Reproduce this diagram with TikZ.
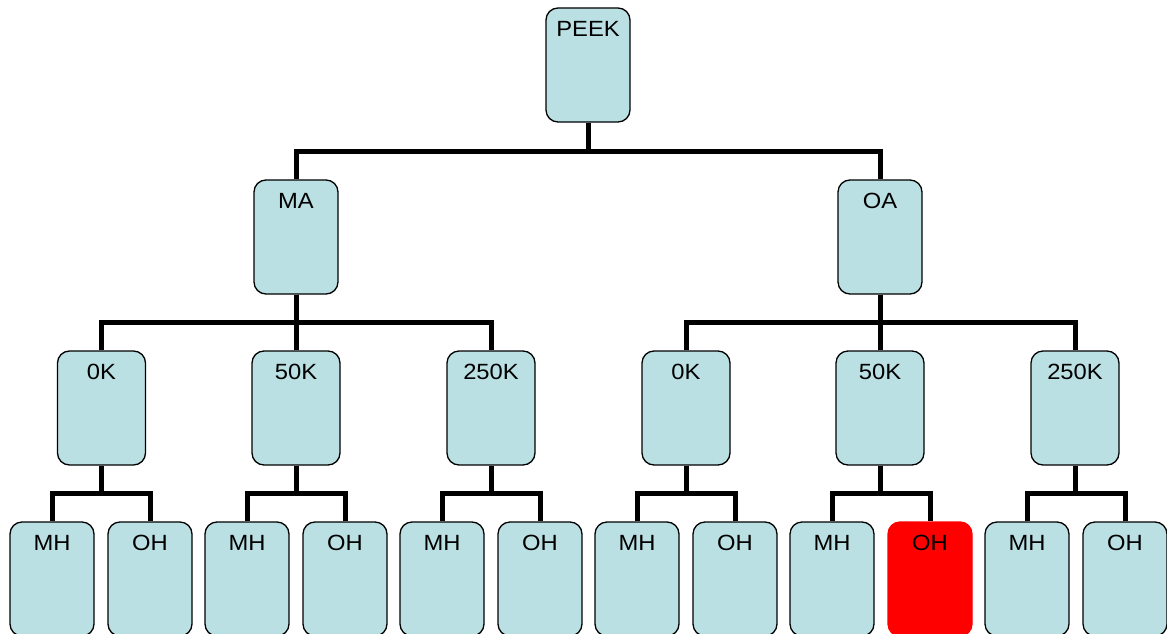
\documentclass[tikz,border=0pt]{standalone}
\usepackage{fontspec}
\setmainfont[FakeStretch=1.08]{Liberation Sans}
\usetikzlibrary{calc}
\definecolor{boxfill}{RGB}{186,224,227}
\tikzset{
  box/.style={draw=black, line width=1.3pt, fill=boxfill, rounded corners=12pt,
    minimum width=84pt, minimum height=114pt, inner sep=0pt},
  wbox/.style={box, minimum width=88pt},
  hot/.style={box, draw=red, fill=red},
  lbl/.style={anchor=north, inner sep=0pt, font=\fontsize{22}{24}\selectfont},
  conn/.style={line width=5pt, line join=miter},
}
\newcommand{\bx}[4][box]{%
  \node[#1] (#2) at #3 {};
  \node[lbl] (#2-t) at ($(#2.north)+(0,14)$) {#4};}
\newcommand{\lnk}[2]{%
  \draw[conn] (#1.south) -- ($(#1.south)!.5!(#1.south |- #2.north)$) -| (#2.north);}
\begin{document}
\begin{tikzpicture}[x=1pt,y=-1pt]
\useasboundingbox (0,0) rectangle (1167,634);
\bx{peek}{(588,65)}{PEEK}
\bx{ma}{(296,237)}{MA}
\bx{oa}{(880,237)}{OA}
\bx[wbox]{a0}{(101.5,408)}{0K}
\bx[wbox]{a50}{(296,408)}{50K}
\bx[wbox]{a250}{(491,408)}{250K}
\bx[wbox]{b0}{(686,408)}{0K}
\bx[wbox]{b50}{(880,408)}{50K}
\bx[wbox]{b250}{(1075,408)}{250K}
\bx{l1}{(52,579)}{MH}
\bx{l2}{(150,579)}{OH}
\bx{l3}{(247,579)}{MH}
\bx{l4}{(345,579)}{OH}
\bx{l5}{(442,579)}{MH}
\bx{l6}{(540,579)}{OH}
\bx{l7}{(637,579)}{MH}
\bx{l8}{(735,579)}{OH}
\bx{l9}{(832,579)}{MH}
\bx[hot]{l10}{(930,579)}{OH}
\bx{l11}{(1027,579)}{MH}
\bx{l12}{(1125,579)}{OH}
\lnk{peek}{ma}\lnk{peek}{oa}
\lnk{ma}{a0}\lnk{ma}{a50}\lnk{ma}{a250}
\lnk{oa}{b0}\lnk{oa}{b50}\lnk{oa}{b250}
\lnk{a0}{l1}\lnk{a0}{l2}
\lnk{a50}{l3}\lnk{a50}{l4}
\lnk{a250}{l5}\lnk{a250}{l6}
\lnk{b0}{l7}\lnk{b0}{l8}
\lnk{b50}{l9}\lnk{b50}{l10}
\lnk{b250}{l11}\lnk{b250}{l12}
\end{tikzpicture}
\end{document}
